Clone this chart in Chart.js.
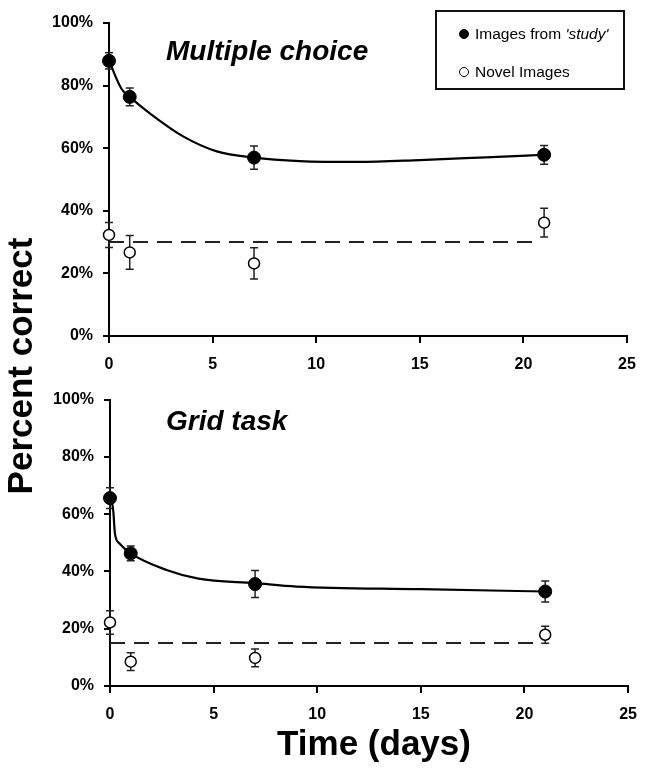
<!DOCTYPE html>
<html>
<head>
<meta charset="utf-8">
<script src="https://cdn.jsdelivr.net/npm/chart.js@4.4.1/dist/chart.umd.min.js"></script>
<style>
body { margin: 0; background: #fff; }
#wrap { position: relative; width: 649px; height: 770px; font-family: "Liberation Sans", Arial, sans-serif; color: #000; }
#wrap canvas { position: absolute; left: 0; }
.ptitle { position: absolute; font-size: 28px; line-height: 27px; font-weight: bold; font-style: italic; white-space: nowrap; }
#legend { position: absolute; left: 435px; top: 10px; width: 186px; height: 76px; border: 2px solid #111; font-size: 15.5px; }
#legend .row { position: absolute; left: 0; height: 20px; line-height: 20px; white-space: nowrap; }
#legend .dot { position: absolute; left: 22px; top: 5px; width: 8px; height: 8px; border-radius: 50%; border: 1.5px solid #000; box-sizing: content-box; }
#legend .lbl { position: absolute; left: 38px; top: 0; }
#ytitle { position: absolute; left: -180px; top: 349px; width: 400px; height: 34px; line-height: 34px; text-align: center; font-size: 35px; font-weight: bold; transform: rotate(-90deg); white-space: nowrap; }
#xtitle { position: absolute; left: 174px; top: 726px; width: 400px; line-height: 34px; text-align: center; font-size: 35px; font-weight: bold; white-space: nowrap; }
</style>
</head>
<body>
<div id="wrap">
  <canvas id="mcChart" width="649" height="375" style="top:0px"></canvas>
  <canvas id="gtChart" width="649" height="390" style="top:380px"></canvas>
  <div class="ptitle" style="left:166px; top:37px">Multiple choice</div>
  <div class="ptitle" style="left:166px; top:407px">Grid task</div>
  <div id="legend">
    <div class="row" style="top:12px"><span class="dot" style="background:#000"></span><span class="lbl">Images from <i>'study'</i></span></div>
    <div class="row" style="top:50px"><span class="dot" style="background:#fff"></span><span class="lbl">Novel Images</span></div>
  </div>
  <div id="ytitle">Percent correct</div>
  <div id="xtitle">Time (days)</div>
</div>
<script>
// Retention days
var days = [0, 1, 7, 21];

// Multiple choice panel
var mcStudy = [87.9, 76.4, 57.0, 57.9];
var mcStudyErr = [2.6, 2.8, 3.7, 3.0];
var mcNovel = [32.3, 26.7, 23.2, 36.2];
var mcNovelErr = [4.0, 5.4, 5.0, 4.6];
var mcChance = 30;
// fitted curve
var mcFitX = [0, 0.6, 1, 2, 3.6, 5.2, 7, 9.2, 12, 15, 18.2, 21];
var mcFitY = [88, 79, 76.4, 71, 63.7, 59, 57, 55.9, 55.6, 56.2, 57.1, 57.9];

// Grid task panel
var gtStudy = [65.6, 46.3, 35.6, 33.0];
var gtStudyErr = [3.6, 2.6, 4.7, 3.7];
var gtNovel = [22.2, 8.5, 9.8, 17.9];
var gtNovelErr = [4.1, 3.1, 3.1, 3.0];
var gtChance = 15;
var gtFitX = [0.05, 0.16, 0.24, 0.47, 1, 2.69, 4.27, 7, 9, 15, 21];
var gtFitY = [65.6, 61, 53.1, 49.7, 46.3, 40.6, 37.5, 35.9, 34.7, 33.8, 33.0];

var chanceEnd = 20.6;
var xTicks = [0, 5, 10, 15, 20, 25];
var yTicks = [0, 20, 40, 60, 80, 100];

function pts(xs, ys) {
    return xs.map(function (x, i) { return { x: x, y: ys[i] }; });
}

// draws vertical error bars with caps, behind the markers
var errorBars = {
    id: 'errorBars',
    beforeDatasetsDraw: function (chart) {
        var ctx = chart.ctx, xs = chart.scales.x, ys = chart.scales.y;
        ctx.save();
        ctx.strokeStyle = '#222';
        ctx.lineWidth = 1.5;
        chart.data.datasets.forEach(function (ds) {
            if (!ds.errors) return;
            ds.data.forEach(function (p, i) {
                var px = xs.getPixelForValue(p.x);
                var top = ys.getPixelForValue(p.y + ds.errors[i]);
                var bot = ys.getPixelForValue(p.y - ds.errors[i]);
                ctx.beginPath();
                ctx.moveTo(px, top); ctx.lineTo(px, bot);
                ctx.moveTo(px - 4, top); ctx.lineTo(px + 4, top);
                ctx.moveTo(px - 4, bot); ctx.lineTo(px + 4, bot);
                ctx.stroke();
            });
        });
        ctx.restore();
    }
};

function makeChart(id, study, studyErr, novel, novelErr, fitX, fitY, chance, pad, yWidth, xHeight) {
    var ctx = document.getElementById(id).getContext('2d');
    return new Chart(ctx, {
        type: 'scatter',
        data: {
            datasets: [{
                data: pts(days, study),
                errors: studyErr,
                pointRadius: 6.5,
                pointBackgroundColor: '#000',
                pointBorderColor: '#000',
                pointBorderWidth: 1,
                showLine: false,
                clip: false
            }, {
                data: pts(days, novel),
                errors: novelErr,
                pointRadius: 5.5,
                pointBackgroundColor: '#fff',
                pointBorderColor: '#000',
                pointBorderWidth: 1.5,
                showLine: false,
                clip: false
            }, {
                data: pts(fitX, fitY),
                showLine: true,
                borderColor: '#000',
                borderWidth: 2.2,
                pointRadius: 0,
                cubicInterpolationMode: 'monotone',
                clip: false
            }, {
                data: [{ x: 0, y: chance }, { x: chanceEnd, y: chance }],
                showLine: true,
                borderColor: '#222',
                borderWidth: 2,
                borderDash: [15, 9],
                pointRadius: 0,
                clip: false
            }]
        },
        options: {
            responsive: false,
            animation: false,
            devicePixelRatio: 1,
            layout: { padding: pad },
            plugins: { legend: { display: false }, tooltip: { enabled: false } },
            scales: {
                x: {
                    type: 'linear', min: 0, max: 25,
                    afterBuildTicks: function (s) { s.ticks = xTicks.map(function (v) { return { value: v }; }); },
                    afterFit: function (s) { s.height = xHeight; },
                    border: { display: true, color: '#000', width: 2 },
                    grid: { drawOnChartArea: false, drawTicks: true, tickLength: 7, color: '#000', lineWidth: 2 },
                    ticks: { color: '#000', padding: 12, maxRotation: 0, font: { family: 'Liberation Sans, Arial, sans-serif', size: 16, weight: 'bold' } }
                },
                y: {
                    min: 0, max: 100,
                    afterBuildTicks: function (s) { s.ticks = yTicks.map(function (v) { return { value: v }; }); },
                    afterFit: function (s) { s.width = yWidth; },
                    border: { display: true, color: '#000', width: 2 },
                    grid: { drawOnChartArea: false, drawTicks: true, tickLength: 6, color: '#000', lineWidth: 2 },
                    ticks: { color: '#000', padding: 10, callback: function (v) { return v + '%'; }, font: { family: 'Liberation Sans, Arial, sans-serif', size: 16, weight: 'bold' } }
                }
            }
        },
        plugins: [errorBars]
    });
}

var mcChart = makeChart('mcChart', mcStudy, mcStudyErr, mcNovel, mcNovelErr, mcFitX, mcFitY, mcChance,
    { top: 23, right: 22, left: 0, bottom: 0 }, 109, 39);
var gtChart = makeChart('gtChart', gtStudy, gtStudyErr, gtNovel, gtNovelErr, gtFitX, gtFitY, gtChance,
    { top: 12, right: 12, left: 0, bottom: 0 }, 110, 84);
</script>
</body>
</html>
